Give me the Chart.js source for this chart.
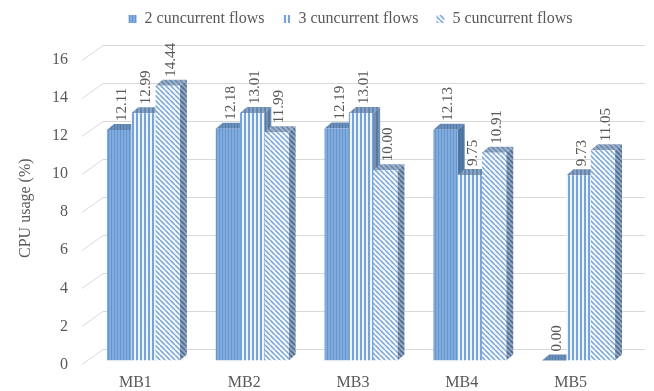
<!DOCTYPE html>
<html>
<head>
<meta charset="utf-8">
<script src="https://cdn.jsdelivr.net/npm/chart.js@4.4.0/dist/chart.umd.min.js"></script>
<style>
  html, body { margin: 0; padding: 0; background: #fff; }
</style>
</head>
<body>
<canvas id="cpuChart" width="654" height="391"></canvas>
<script>
// Utilisation CPU par middlebox selon le nombre de flux simultanés
const categories  = ['MB1', 'MB2', 'MB3', 'MB4', 'MB5'];
const seriesNames = ['2 cuncurrent flows', '3 cuncurrent flows', '5 cuncurrent flows'];
const flows2 = [12.11, 12.18, 12.19, 12.13, 0.00];
const flows3 = [12.99, 13.01, 13.01, 9.75, 9.73];
const flows5 = [14.44, 11.99, 10.00, 10.91, 11.05];
const yMin = 0, yMax = 16, yStep = 2;

const FONT  = '"Liberation Serif", "Times New Roman", serif';
const TEXT  = '#595959';
const GRID  = '#d9d9d9';
const DX = 7, DY = 6;   // profondeur des barres (effet 3D)

// Motifs de remplissage
function tile(w, h, bg, paint) {
  const c = document.createElement('canvas');
  c.width = w; c.height = h;
  const g = c.getContext('2d');
  g.fillStyle = bg;
  g.fillRect(0, 0, w, h);
  paint(g, w, h);
  return g.createPattern(c, 'repeat');
}
const vLines = (color, lw) => (g, w, h) => {
  g.fillStyle = color;
  g.fillRect(0, 0, lw, h);
};
const dLines = (color, lw) => (g, w, h) => {
  g.strokeStyle = color;
  g.lineWidth = lw;
  g.beginPath();
  for (const o of [-w, 0, w]) { g.moveTo(o, 0); g.lineTo(o + w, h); }
  g.stroke();
};

const fronts = [
  tile(3, 1, '#80abdc', vLines('#6596cd', 1)),
  tile(4, 1, '#eef4fb', vLines('#76a4d9', 2)),
  tile(5, 5, '#f5f9fd', dLines('#76a4d9', 1.5))
];
const tops = [
  tile(3, 1, '#6b8fbb', vLines('#577da9', 1)),
  tile(4, 1, '#86a2c4', vLines('#6686ae', 2)),
  tile(5, 5, '#9cb1cb', dLines('#6682a6', 1.4))
];
const sides = [
  tile(3, 1, '#5079a6', vLines('#48719d', 1)),
  tile(4, 1, '#7391b5', vLines('#58789d', 2)),
  tile(5, 5, '#93a8c2', dLines('#4e6c90', 1.6))
];

function quad(ctx, pts, fill) {
  ctx.beginPath();
  ctx.moveTo(pts[0][0], pts[0][1]);
  for (let i = 1; i < pts.length; i++) ctx.lineTo(pts[i][0], pts[i][1]);
  ctx.closePath();
  ctx.fillStyle = fill;
  ctx.fill();
}

// Quadrillage du fond + faces latérales et supérieures des barres
const walls3d = {
  id: 'walls3d',
  beforeDatasetsDraw(chart) {
    const { ctx, chartArea: a, scales: { y } } = chart;
    ctx.save();
    ctx.strokeStyle = GRID;
    ctx.lineWidth = 1;
    y.ticks.forEach(t => {
      const py = Math.round(y.getPixelForValue(t.value));
      ctx.beginPath();
      ctx.moveTo(a.left - 7, py + 4.5);
      ctx.lineTo(a.left + 14, py - 10.5);
      ctx.lineTo(a.right + 12, py - 10.5);
      ctx.stroke();
    });

    const n = chart.data.labels.length;
    for (let i = 0; i < n; i++) {
      chart.data.datasets.forEach((ds, d) => {
        const bar = chart.getDatasetMeta(d).data[i];
        const { x, y: top, base, width } = bar.getProps(['x', 'y', 'base', 'width'], true);
        const xl = x - width / 2, xr = x + width / 2;
        quad(ctx, [[xr, top], [xr + DX, top - DY], [xr + DX, base - DY], [xr, base]], sides[d]);
        quad(ctx, [[xl, top], [xr, top], [xr + DX, top - DY], [xl + DX, top - DY]], tops[d]);
      });
    }
    ctx.restore();
  },
  afterDatasetsDraw(chart) {
    const { ctx } = chart;
    ctx.save();
    ctx.fillStyle = TEXT;
    ctx.font = '15px ' + FONT;
    ctx.textAlign = 'left';
    ctx.textBaseline = 'middle';
    chart.data.datasets.forEach((ds, d) => {
      chart.getDatasetMeta(d).data.forEach((bar, i) => {
        const { x, y: top } = bar.getProps(['x', 'y'], true);
        ctx.save();
        ctx.translate(x + 3, top - DY - 3);
        ctx.rotate(-Math.PI / 2);
        ctx.fillText(ds.data[i].toFixed(2), 0, 0);
        ctx.restore();
      });
    });
    ctx.restore();
  }
};

// Replace la légende en haut, un peu décalée vers la droite
const legendShift = {
  id: 'legendShift',
  afterLayout(chart) {
    const lg = chart.legend;
    lg.left += 34;  lg.right += 34;
    lg.top -= 19;   lg.bottom -= 19;
  }
};

const datasets = [flows2, flows3, flows5].map((data, d) => ({
  label: seriesNames[d],
  data,
  backgroundColor: fronts[d],
  borderWidth: 0,
  categoryPercentage: 0.67,
  barPercentage: 1.0
}));

new Chart(document.getElementById('cpuChart'), {
  type: 'bar',
  data: { labels: categories, datasets },
  options: {
    responsive: false,
    animation: false,
    devicePixelRatio: 1,
    layout: { padding: { top: -7, right: 21, bottom: -17, left: 0 } },
    plugins: {
      tooltip: { enabled: false },
      legend: {
        position: 'top',
        labels: {
          boxWidth: 8,
          boxHeight: 8,
          padding: 18,
          color: TEXT,
          font: { family: FONT, size: 16 }
        }
      }
    },
    scales: {
      x: {
        grid: { display: false, drawTicks: false },
        border: { display: false },
        ticks: { color: TEXT, font: { family: FONT, size: 16 }, padding: 13, labelOffset: -8 }
      },
      y: {
        min: yMin,
        max: yMax,
        grid: { display: false, drawTicks: false },
        border: { display: false },
        ticks: { stepSize: yStep, color: TEXT, font: { family: FONT, size: 16 }, padding: 21, labelOffset: 4 },
        title: {
          display: true,
          text: 'CPU usage (%)',
          color: TEXT,
          font: { family: FONT, size: 16 },
          padding: { top: 16, bottom: 16 }
        },
        afterFit(scale) {
          scale.width = 89;
          scale.paddingTop = 56;   // espace entre la légende et le haut du graphique
        }
      }
    }
  },
  plugins: [walls3d, legendShift]
});
</script>
</body>
</html>
